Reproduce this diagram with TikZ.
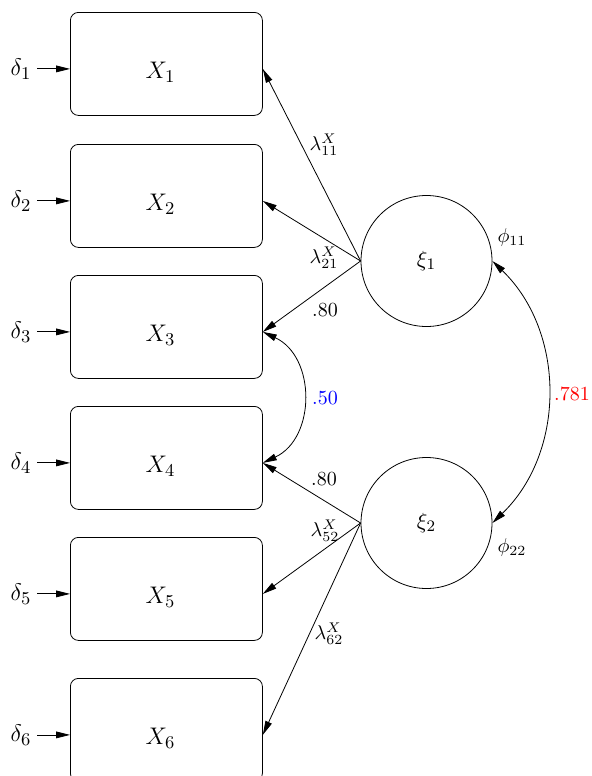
\documentclass[tikz,border=0pt]{standalone}
\usetikzlibrary{arrows.meta,positioning}
\newcommand\bxlabel[1]{\raisebox{-2.6pt}[0pt][0pt]{\fontsize{13}{15}\selectfont$#1$}\kern6pt}
\newcommand\latlabel[1]{\raisebox{-3.2pt}{\fontsize{11}{13}\selectfont$#1$}}
\begin{document}
\begin{tikzpicture}[x=0.5pt,y=-0.5pt,
  box/.style={draw, rounded corners=4pt, inner sep=0pt, minimum width=96pt,
    text height=30.4pt, text depth=21.1pt, anchor=north west},
  lat/.style={draw, circle, minimum size=65.5pt, inner sep=0pt},
  arr/.style={-{Triangle[length=7pt,width=3.4pt]}},
  darr/.style={{Triangle[length=7pt,width=3.4pt]}-{Triangle[length=7pt,width=3.4pt]}},
  lbl/.style={inner sep=0pt},
  err/.style={anchor=east, inner sep=2.8pt, font=\fontsize{13}{15}\selectfont}
]
\useasboundingbox (0,0) rectangle (592,776);

% observed variables
\node[box] (x1) at (70,12)  {\bxlabel{X_1}};
\node[box] (x2) at (70,144) {\bxlabel{X_2}};
\node[box] (x3) at (70,275) {\bxlabel{X_3}};
\node[box] (x4) at (70,406) {\bxlabel{X_4}};
\node[box] (x5) at (70,537) {\bxlabel{X_5}};
\node[box] (x6) at (70,678) {\bxlabel{X_6}};

% errors
\node[err] (d1) at ([xshift=-16.3pt]x1.mid west) {$\delta_1$};
\node[err] (d2) at ([xshift=-16.3pt]x2.mid west) {$\delta_2$};
\node[err] (d3) at ([xshift=-16.3pt]x3.mid west) {$\delta_3$};
\node[err] (d4) at ([xshift=-16.3pt]x4.mid west) {$\delta_4$};
\node[err] (d5) at ([xshift=-16.3pt]x5.mid west) {$\delta_5$};
\node[err] (d6) at ([xshift=-16.3pt]x6.mid west) {$\delta_6$};
\foreach \i in {1,...,6} \draw[arr] (d\i.east) -- (x\i.mid west);

% latent variables
\node[lat] (k1) at (426.5,261) {\latlabel{\xi_1}};
\node[lat] (k2) at (426.5,523) {\latlabel{\xi_2}};

% loadings
\draw[arr] (k1.west) -- (x1.mid east);
\draw[arr] (k1.west) -- (x2.mid east);
\draw[arr] (k1.west) -- (x3.mid east);
\draw[arr] (k2.west) -- (x4.mid east);
\draw[arr] (k2.west) -- (x5.mid east);
\draw[arr] (k2.west) -- (x6.mid east);

% covariances
\draw[darr] (x3.mid east) to[bend left=65, looseness=1.15] (x4.mid east);
\draw[darr] (k1.east) to[bend left=46, looseness=1] (k2.east);

% labels
\node[lbl] (l11) at (324,145) {$\lambda^X_{11}$};
\node[lbl] (l21) at (324,258) {$\lambda^X_{21}$};
\node[lbl] (l31) at (325,310) {.80};
\node[lbl] (l42) at (324,479) {.80};
\node[lbl] (l52) at (325,531) {$\lambda^X_{52}$};
\node[lbl] (l62) at (329,634) {$\lambda^X_{62}$};
\node[lbl, text=blue] (c34) at (325,398) {.50};
\node[lbl, text=red] (c12) at (572,394) {.781};
\node[lbl] (p11) at (512,237) {$\phi_{11}$};
\node[lbl] (p22) at (512,547) {$\phi_{22}$};
\end{tikzpicture}
\end{document}
